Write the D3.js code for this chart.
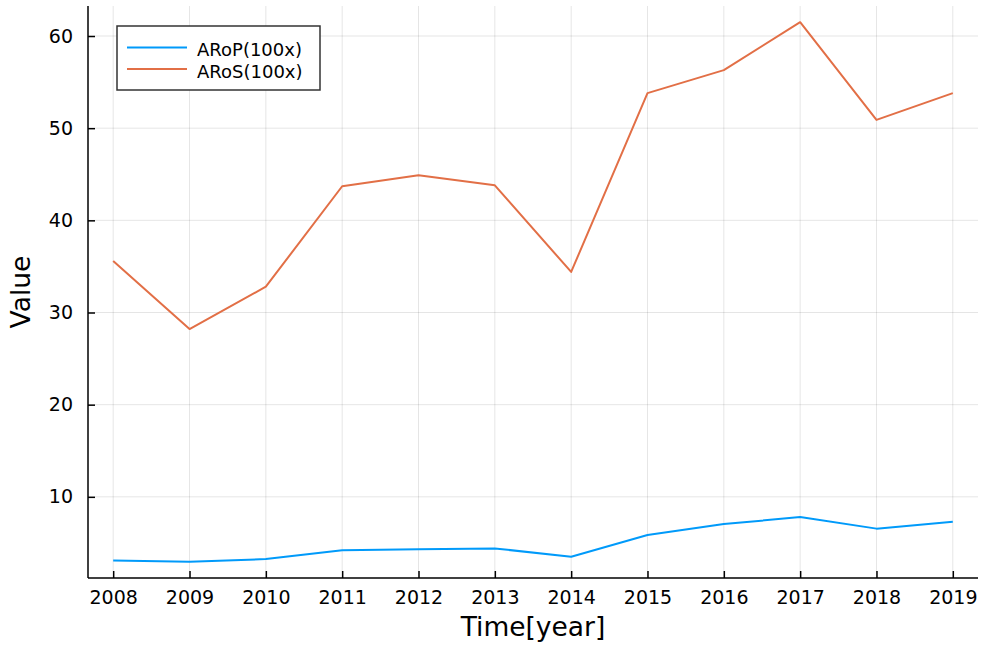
<!DOCTYPE html>
<html>
<head>
<meta charset="utf-8">
<script src="https://cdn.jsdelivr.net/npm/d3@7"></script>
<style>
  html, body { margin: 0; padding: 0; background: #fff; }
  text { font-family: "DejaVu Sans", sans-serif; fill: #000; }
</style>
</head>
<body>
<svg id="chart" width="986" height="647"></svg>
<script>
// Yearly observations
const years = [2008, 2009, 2010, 2011, 2012, 2013, 2014, 2015, 2016, 2017, 2018, 2019];
const arop = [3.1, 2.95, 3.25, 4.2, 4.3, 4.4, 3.5, 5.85, 7.05, 7.8, 6.55, 7.3];
const aros = [35.6, 28.2, 32.8, 43.7, 44.9, 43.8, 34.4, 53.8, 56.3, 61.5, 50.9, 53.8];
const seriesNames = ["ARoP(100x)", "ARoS(100x)"];
const seriesColors = ["#009AFA", "#E26F46"];
const yTicks = [10, 20, 30, 40, 50, 60];

const svg = d3.select("#chart");
const plotL = 88, plotR = 978, plotT = 6, plotB = 578;

// 3% padding around the data extent on both axes
const xPad = (d3.max(years) - d3.min(years)) * 0.03;
const x = d3.scaleLinear()
  .domain([d3.min(years) - xPad, d3.max(years) + xPad])
  .range([plotL, plotR]);
const allY = arop.concat(aros);
const yPad = (d3.max(allY) - d3.min(allY)) * 0.03;
const y = d3.scaleLinear()
  .domain([d3.min(allY) - yPad, d3.max(allY) + yPad])
  .range([plotB, plotT]);

// grid
const grid = svg.append("g");
grid.selectAll("line.gx").data(years).join("line")
  .attr("x1", d => x(d)).attr("x2", d => x(d))
  .attr("y1", plotT).attr("y2", plotB)
  .attr("stroke", "#000").attr("stroke-opacity", 0.1).attr("stroke-width", 1);
grid.selectAll("line.gy").data(yTicks).join("line")
  .attr("x1", plotL).attr("x2", plotR)
  .attr("y1", d => y(d)).attr("y2", d => y(d))
  .attr("stroke", "#000").attr("stroke-opacity", 0.1).attr("stroke-width", 1);

// axes with inward ticks
const xAxis = d3.axisBottom(x).tickValues(years).tickFormat(d3.format("d"))
  .tickSizeInner(-7).tickSizeOuter(0).tickPadding(13);
const gx = svg.append("g").attr("transform", `translate(0,${plotB})`).call(xAxis);
const yAxis = d3.axisLeft(y).tickValues(yTicks)
  .tickSizeInner(-7).tickSizeOuter(0).tickPadding(15);
const gy = svg.append("g").attr("transform", `translate(${plotL},0)`).call(yAxis);

[gx, gy].forEach(g => {
  g.select(".domain").attr("stroke", "#000").attr("stroke-width", 1.5);
  g.selectAll(".tick line").attr("stroke", "#000").attr("stroke-width", 1.5);
  g.selectAll(".tick text").attr("font-size", 19).attr("font-family", "DejaVu Sans").attr("fill", "#000");
});
gx.select(".domain").attr("d", `M${plotL},0H${plotR}`);
gy.select(".domain").attr("d", `M0,${plotB}V${plotT}`);

// axis titles
svg.append("text")
  .attr("x", (plotL + plotR) / 2).attr("y", 636)
  .attr("text-anchor", "middle").attr("font-size", 26.5)
  .text("Time[year]");
svg.append("text")
  .attr("transform", `translate(30,${(plotT + plotB) / 2}) rotate(-90)`)
  .attr("text-anchor", "middle").attr("font-size", 26.5)
  .text("Value");

// series lines
const line = d3.line().x((d, i) => x(years[i])).y(d => y(d));
[arop, aros].forEach((vals, k) => {
  svg.append("path")
    .datum(vals)
    .attr("d", line)
    .attr("fill", "none")
    .attr("stroke", seriesColors[k])
    .attr("stroke-width", 2)
    .attr("stroke-linejoin", "round");
});

// legend
const lg = svg.append("g");
lg.append("rect")
  .attr("x", 117).attr("y", 26).attr("width", 203).attr("height", 64)
  .attr("fill", "#fff").attr("stroke", "#333").attr("stroke-width", 1.5);
seriesNames.forEach((name, k) => {
  const ly = 47.5 + k * 21.5;
  lg.append("line")
    .attr("x1", 127).attr("x2", 187).attr("y1", ly).attr("y2", ly)
    .attr("stroke", seriesColors[k]).attr("stroke-width", 2);
  lg.append("text")
    .attr("x", 197).attr("y", ly + 8.5)
    .attr("font-size", 18)
    .text(name);
});
</script>
</body>
</html>
